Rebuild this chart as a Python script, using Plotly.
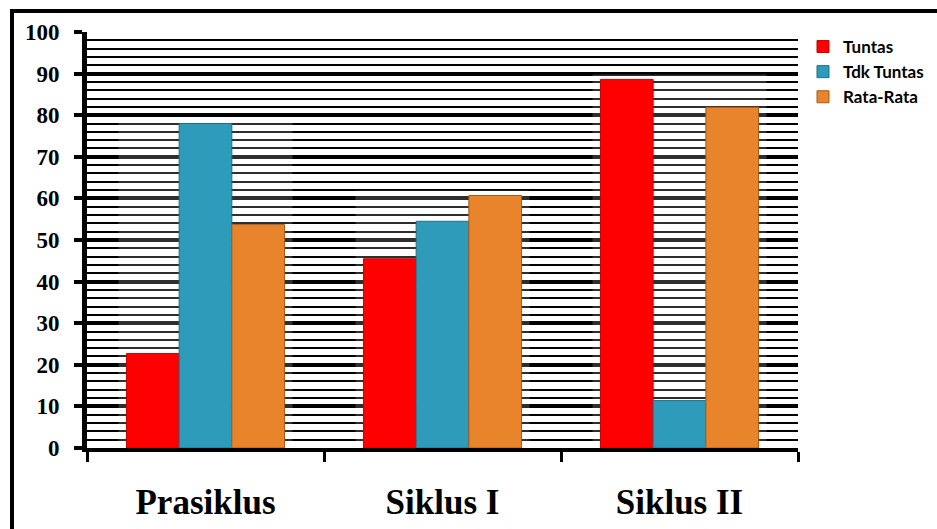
import plotly.graph_objects as go

# Data
categories = ["Prasiklus", "Siklus I", "Siklus II"]
tuntas = [22.7, 45.5, 88.6]
tdk_tuntas = [78.0, 54.5, 11.4]
rata_rata = [53.7, 60.7, 81.9]
y_ticks = [0, 10, 20, 30, 40, 50, 60, 70, 80, 90, 100]

series = [
    ("Tuntas", tuntas, "#FF0000", "#C80000"),
    ("Tdk Tuntas", tdk_tuntas, "#2F9BBB", "#1F6F88"),
    ("Rata-Rata", rata_rata, "#E8852C", "#A95A18"),
]

W, H = 937, 529
ML, MR, MT, MB = 87, 139, 32, 81
plot_w = W - ML - MR
plot_h = H - MT - MB

fig = go.Figure()
for name, vals, col, edge in series:
    fig.add_trace(go.Bar(
        x=categories, y=vals, name=name,
        marker=dict(color=col, line=dict(color=edge, width=1)),
    ))

# soft glow behind each group of bars, lightening the grid lines there
bargap = 0.333
half = (1 - bargap) / 2
pad = 8 / (plot_w / len(categories))
for i in range(len(categories)):
    top = max(tuntas[i], tdk_tuntas[i], rata_rata[i]) + 1.2
    fig.add_shape(type="rect", xref="x", yref="y",
                  x0=i - half - pad, x1=i + half + pad, y0=0, y1=top,
                  fillcolor="rgba(255,255,255,0.18)", line=dict(width=0),
                  layer="between")

# outer frame (left and top edges visible)
fig.add_shape(type="rect", xref="paper", yref="paper",
              x0=(12 - ML) / plot_w, x1=(W + 40 - ML) / plot_w,
              y0=-(MB + 40) / plot_h, y1=1 + (MT - 11) / plot_h,
              line=dict(color="black", width=4), fillcolor="rgba(0,0,0,0)",
              layer="above")

fig.update_layout(
    width=W, height=H,
    margin=dict(l=ML, r=MR, t=MT, b=MB, autoexpand=False),
    paper_bgcolor="white", plot_bgcolor="white",
    barmode="group", bargap=bargap, bargroupgap=0,
    showlegend=True,
    legend=dict(
        x=(803 - ML) / plot_w, xanchor="left",
        y=1 + 3 / plot_h, yanchor="top",
        font=dict(family="Lato", size=17, color="black", weight="bold"),
        bgcolor="rgba(0,0,0,0)", tracegroupgap=0,
    ),
    xaxis=dict(
        type="category",
        showline=True, linecolor="black", linewidth=4,
        ticks="outside", tickson="boundaries", ticklen=10, tickwidth=3,
        tickcolor="black", showgrid=False,
        tickfont=dict(family="Liberation Serif", size=35, color="black",
                      weight="bold"),
        ticklabelstandoff=20,
    ),
    yaxis=dict(
        range=[0, 100], tickvals=y_ticks,
        showline=True, linecolor="black", linewidth=5,
        ticks="outside", ticklen=8, tickwidth=4, tickcolor="black",
        showgrid=True, gridcolor="black", gridwidth=4,
        zeroline=False,
        minor=dict(dtick=2, showgrid=True, gridcolor="black", gridwidth=2,
                   ticks=""),
        tickfont=dict(family="Liberation Serif", size=23, color="black",
                      weight="bold"),
        ticklabelstandoff=10,
    ),
)

fig.write_html("out.html")
